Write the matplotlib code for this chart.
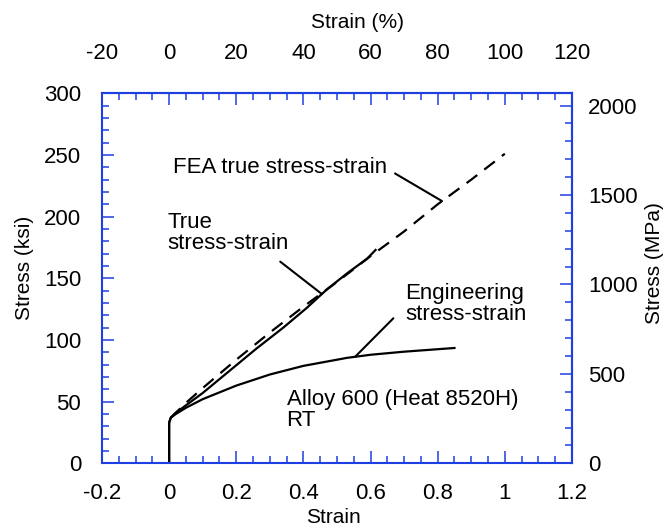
import numpy as np
import matplotlib
matplotlib.use("Agg")
import matplotlib.pyplot as plt
from matplotlib.ticker import MultipleLocator, FuncFormatter

plt.rcParams['font.family'] = ['Liberation Sans', 'DejaVu Sans']
plt.rcParams['axes.unicode_minus'] = False

# Engineering stress-strain (strain, ksi)
eng_strain = [0.0, 0.0, 0.005, 0.02, 0.05, 0.10, 0.20, 0.30, 0.40, 0.50, 0.53, 0.60, 0.70, 0.80, 0.85]
eng_stress = [0.0, 33.0, 37.0, 40.0, 45.0, 52.0, 63.0, 72.0, 79.0, 84.0, 85.5, 88.0, 90.5, 92.5, 93.5]

# True stress-strain (strain, ksi)
true_strain = [0.0, 0.0, 0.005, 0.02, 0.05, 0.10, 0.18, 0.26, 0.34, 0.41, 0.47, 0.53, 0.59, 0.615]
true_stress = [0.0, 33.0, 37.0, 41.0, 47.0, 57.0, 75.0, 93.0, 110.0, 126.0, 141.0, 154.0, 166.0, 173.0]

# FEA true stress-strain (strain, ksi)
fea_strain = [0.005, 0.02, 0.05, 0.10, 0.20, 0.30, 0.40, 0.50, 0.60, 0.70, 0.80, 0.90, 1.00]
fea_stress = [37.0, 41.0, 49.0, 61.0, 84.0, 106.0, 127.0, 147.0, 168.0, 188.0, 210.0, 230.0, 251.0]

KSI_TO_MPA = 6.89476
AXIS_BLUE = '#1f3fe0'
TICK_SIZE = 16
LABEL_SIZE = 15
NOTE_SIZE = 16

fig = plt.figure(figsize=(6.71, 5.29), dpi=100)
ax = fig.add_axes([0.152, 0.1242, 0.7004, 0.6994])

ax.plot(eng_strain, eng_stress, color='black', lw=1.6)
ax.plot(true_strain, true_stress, color='black', lw=1.6)
ax.plot(fea_strain, fea_stress, color='black', lw=1.6, linestyle=(0, (6, 4)))

ax.set_xlim(-0.2, 1.2)
ax.set_ylim(0, 300)

for side in ax.spines.values():
    side.set_color(AXIS_BLUE)
    side.set_linewidth(1.5)


def style_ticks(axis_obj, pad):
    axis_obj.tick_params(which='both', direction='in', color=AXIS_BLUE, width=1.1,
                         labelsize=TICK_SIZE, pad=pad)
    axis_obj.tick_params(which='major', length=8.6)
    axis_obj.tick_params(which='minor', length=5)


ax.xaxis.set_major_locator(MultipleLocator(0.2))
ax.xaxis.set_minor_locator(MultipleLocator(0.05))
ax.yaxis.set_major_locator(MultipleLocator(50))
ax.yaxis.set_minor_locator(MultipleLocator(10))
ax.xaxis.set_major_formatter(FuncFormatter(lambda v, p: f"{v:g}"))
style_ticks(ax, 14)
ax.tick_params(axis='y', pad=15)

# Top axis in percent strain
top = ax.secondary_xaxis('top', functions=(lambda s: s * 100, lambda p: p / 100))
top.xaxis.set_major_locator(MultipleLocator(20))
top.xaxis.set_minor_locator(MultipleLocator(5))
style_ticks(top, 21)
top.spines['top'].set_color(AXIS_BLUE)
top.spines['top'].set_linewidth(1.5)
top.yaxis.set_visible(False)

# Right axis in MPa
right = ax.secondary_yaxis('right', functions=(lambda k: k * KSI_TO_MPA,
                                               lambda m: m / KSI_TO_MPA))
right.yaxis.set_major_locator(MultipleLocator(500))
right.yaxis.set_minor_locator(MultipleLocator(100))
style_ticks(right, 11.5)
right.spines['right'].set_color(AXIS_BLUE)
right.spines['right'].set_linewidth(1.5)
right.xaxis.set_visible(False)

# Axis titles
fig.text(0.5328, 0.9584, 'Strain (%)', fontsize=LABEL_SIZE, ha='center', va='center')
fig.text(0.4963, 0.0210, 'Strain', fontsize=LABEL_SIZE, ha='center', va='center')
fig.text(0.0358, 0.4943, 'Stress (ksi)', fontsize=LABEL_SIZE, ha='center', va='center',
         rotation=90)
fig.text(0.976, 0.5028, 'Stress (MPa)', fontsize=LABEL_SIZE, ha='center', va='center',
         rotation=90)

# Curve labels with leader lines
leader = dict(arrowstyle='-', color='black', lw=1.5, shrinkA=0, shrinkB=0)

fea_tip = 0.813
ax.annotate('', xy=(fea_tip, np.interp(fea_tip, fea_strain, fea_stress)),
            xytext=(0.673, 235), arrowprops=leader)
ax.text(0.011, 240, 'FEA true stress-strain', fontsize=NOTE_SIZE, va='center', ha='left')

true_tip = 0.455
ax.annotate('', xy=(true_tip, np.interp(true_tip, true_strain, true_stress)),
            xytext=(0.331, 163.5), arrowprops=leader)
ax.text(-0.006, 170, 'True\nstress-strain', fontsize=NOTE_SIZE, va='bottom', ha='left',
        linespacing=1.0)

eng_tip = 0.554
ax.annotate('', xy=(eng_tip, np.interp(eng_tip, eng_strain, eng_stress)),
            xytext=(0.668, 117.6), arrowprops=leader)
ax.text(0.703, 112, 'Engineering\nstress-strain', fontsize=NOTE_SIZE, va='bottom',
        ha='left', linespacing=1.0)

ax.text(0.35, 60, 'Alloy 600 (Heat 8520H)\nRT', fontsize=NOTE_SIZE, va='top', ha='left',
        linespacing=0.95)

fig.savefig('out.png', dpi=100)
